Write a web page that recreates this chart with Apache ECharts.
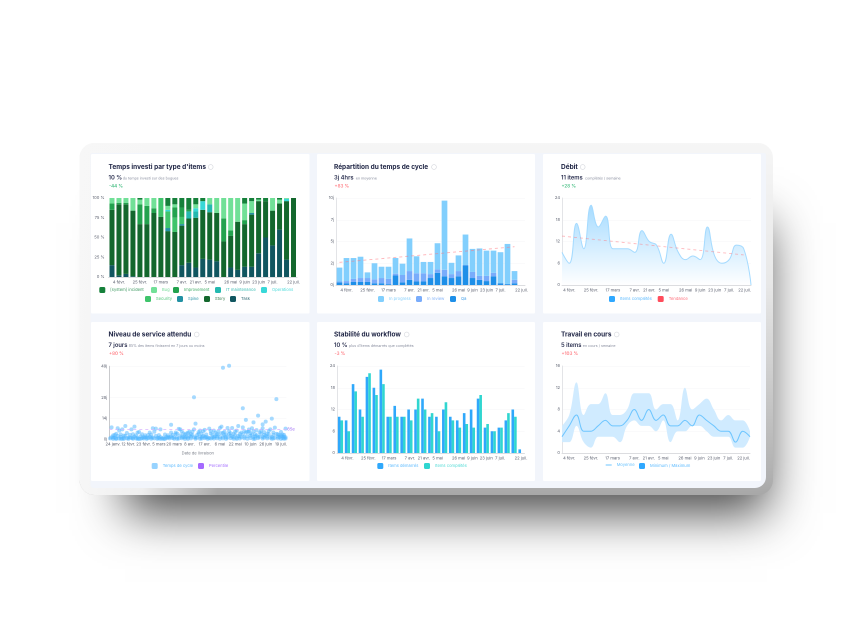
<!DOCTYPE html>
<html><head><meta charset="utf-8">
<style>html,body{margin:0;padding:0;background:#fff}#c{width:851px;height:638px;filter:blur(0.4px)}</style>
<script src="https://cdn.jsdelivr.net/npm/echarts@6/dist/echarts.min.js"></script>
</head><body><div id="c"></div>
<script>
const weeks=['28 janv.','4 févr.','11 févr.','18 févr.','25 févr.','3 mars','10 mars','17 mars','24 mars','31 mars','7 avr.','14 avr.','21 avr.','28 avr.','5 mai','12 mai','19 mai','26 mai','2 juin','9 juin','16 juin','23 juin','30 juin','7 juil.','14 juil.','21 juil.','22 juil.'];
const shownWeeks=[1,4,7,10,12,14,17,19,21,23,26];
// Chart 1
const task=[15,2,4,1,0,0,0,0,0,0,15,18,12,23,22,20,0,12,9,13,13,30,50,40,60,22,0];
const story=[70,90,88,83,67,67,81,76,58,57,50,56,63,62,60,61,45,40,61,54,66,66,46,44,33,74,100];
const spike=[0,0,0,0,0,0,0,0,4,0,2,0,0,0,0,0,0,0,0,0,2,0,0,0,0,0,0];
const maintenance=[0,0,0,0,0,0,0,0,0,0,0,9,8,0,10,0,0,0,0,0,0,0,0,0,0,0,0];
const security=[0,0,0,0,0,0,0,24,21,18,9,0,0,0,0,0,0,0,0,0,0,0,0,0,0,0,0];
const operations=[0,0,0,0,0,0,0,0,2,0,0,0,4,11,0,0,0,0,0,0,0,0,0,0,0,3,0];
const improvement=[8,2,2,0,25,23,6,0,0,13,12,2,0,0,0,0,29,7,0,5,0,0,0,0,0,0,0];
const bug=[7,6,6,16,6,10,13,0,5,4,0,0,5,0,8,19,26,41,30,21,15,2,0,16,5,1,0];
const incident=[0,0,0,0,2,0,0,0,10,8,12,15,8,4,0,0,0,0,0,7,4,2,4,0,2,0,0];
// Chart 2
const qa=[0.3,0.2,0.35,0.35,0.35,0.2,0.2,0.1,1.1,0.3,0.6,0.4,0.4,0.8,1.4,1.0,0.8,1.0,2.25,0.8,0.6,0.45,1.0,0.2,0.1,0.2,0];
const review=[0.1,0.25,0.35,0.45,0.45,0.45,0.6,0.6,0.2,0.85,1.0,0.95,0.95,0.45,0.4,0.75,0.45,0.6,0.05,0.7,0.45,0.6,0.4,0.02,0.02,0.4,0];
const progress=[1.6,2.65,2.4,2.45,0.65,1.85,1.3,1.4,1.8,1.3,3.75,1.95,1.3,1.4,3.0,7.95,1.3,1.8,3.5,2.65,3.15,2.9,2.55,3.55,4.6,1.0,0];
const cycleTrend=[2.6,null,null,null,null,null,null,null,null,null,null,null,null,null,null,null,null,null,null,null,null,null,null,null,null,4.4,null];
const cycleTicks={0:'0j',2.5:'2j',5:'5j',7.5:'7j',10:'10j'};
// Chart 3
const throughput=[9,6,17,10,22,16,19,10,10,10,9,15,12,11,6,14,9,7,8,7,16,8,6,7,11,10,0];
const throughputTrend=[13.5,null,null,null,null,null,null,null,null,null,null,null,null,null,null,null,null,null,null,null,null,null,null,null,null,8.3,null];
// Chart 4
const deliveryTicks=['24 janv.','12 févr.','23 févr.','5 mars','20 mars','8 avr.','17 avr.','6 mai','22 mai','10 juin','26 juin','19 juil.'];
const slowPoints=[[1,8],[3,2.9],[5,7.4],[6,5.8],[8,6.7],[10,8.9],[13,3],[14,6.7],[16,8.5],[18,4.5],[21,3.4],[25,2.9],[26,4.5],[28,7.4],[30,7.2],[33,6.7],[40,9.8],[40,4.5],[41,3],[45,7],[46,6.7],[48,4],[50,1.8],[52,5.1],[55,28.2],[56,10.5],[55,6.7],[57,2.9],[59,5.8],[62,6.3],[65,7.2],[68,5.8],[72,7.6],[73,8.5],[74,48],[78,49.4],[77,7.6],[80,7.6],[83,5.8],[84,8.9],[87,20.8],[89,13],[86,4.5],[87,8],[93,7.4],[94,11.4],[97,15.9],[100,7.4],[100,10],[102,11.9],[106,13.9],[105,6.7],[108,7.8],[109,27],[115,7.2],[111,2.9]];
const midPoints=[[2,2.6],[4,3.6],[7,3.2],[9,2.5],[11,4.2],[15,3.4],[17,2.6],[19,4.9],[23,2.7],[27,3.1],[29,5.1],[32,2.8],[36,3.2],[38,2.7],[43,4.6],[44,3.8],[47,5.3],[49,3.1],[51,4.4],[53,3.5],[54,5.2],[58,4.8],[60,3.6],[61,5.4],[63,3.2],[66,5.6],[67,3.1],[69,4.5],[70,3.5],[71,5.5],[74,4.3],[75,5.1],[76,3.2],[78,5.4],[79,4.1],[81,3.7],[82,5.3],[85,3.6],[88,5.5],[90,5],[91,6.6],[92,4.1],[94,5.4],[95,3.5],[96,6.2],[98,4.6],[99,5.7],[101,4.8],[103,3.7],[104,5.6],[107,4.6],[110,3.4],[112,4.9],[113,3.2],[114,3]];
const fastPoints=[[0,0.6],[1,1.4],[2,0.3],[3,1.1],[4,0.8],[5,2.2],[6,0.5],[7,1.6],[8,0.4],[9,1],[10,2.4],[11,0.7],[12,0.3],[13,1.3],[14,0.9],[15,0.4],[16,1.8],[17,0.6],[18,1.1],[19,0.3],[20,2],[21,0.9],[22,0.5],[23,1.4],[24,0.3],[25,0.8],[26,1.6],[27,0.4],[28,1.1],[29,0.6],[30,2.3],[31,0.3],[32,0.9],[33,1.5],[34,0.5],[35,1.1],[36,0.3],[37,0.8],[38,1.3],[39,0.6],[40,1.9],[41,0.9],[42,0.4],[43,3.4],[44,1.2],[45,0.5],[46,2.6],[47,0.7],[48,1.5],[49,0.3],[50,3.8],[51,1.1],[52,2.4],[53,0.6],[54,3],[55,1.4],[56,0.4],[57,1],[58,3.6],[59,1.8],[60,0.5],[61,2.2],[62,0.8],[63,1.4],[64,0.3],[65,0.9],[66,3.9],[67,1.2],[68,0.5],[69,2],[70,0.7],[71,3.2],[72,1.5],[73,4.1],[74,0.6],[75,2.7],[76,0.3],[77,1.1],[78,3.5],[79,0.8],[80,1.7],[81,0.4],[82,3],[83,1],[84,2.2],[85,0.5],[86,1.4],[87,3.4],[88,0.7],[89,4.6],[90,2.1],[91,5.2],[92,0.9],[93,3.1],[94,1.3],[95,0.4],[96,2.6],[97,0.8],[98,1.6],[99,3.8],[100,0.5],[101,1.2],[102,2.4],[103,0.6],[104,3.4],[105,1.1],[106,0.4],[107,2.9],[108,1],[109,3.6],[110,0.6],[111,1.5],[112,2.4],[113,0.8],[114,1.7],[115,0.5],[4,0.2],[9,0.3],[15,1],[20,0.4],[24,1.2],[31,1],[37,1.6],[44,0.3],[49,1.4],[53,1.7],[60,1.4],[64,1.3],[70,1.8],[74,1.6],[79,2.4],[85,1.9],[92,2.3],[95,1.9],[101,3],[107,0.5],[113,1.9],[2,1.2],[7,0.4],[12,1.1],[18,0.3],[22,1.4],[27,1.2],[33,0.3],[35,0.3],[39,1.5],[42,1.3],[47,1.6],[51,0.3],[56,1.2],[59,0.4],[62,1.7],[66,0.5],[68,1.6],[72,0.4],[76,1.4],[81,1.3],[83,0.3],[88,1.7],[90,0.4],[94,0.3],[97,1.8],[100,1.6],[103,1.7],[106,1.6],[110,1.7],[112,0.3],[114,0.4],[115,1.4]];
const percentile85=6.7;
const serviceTicks=[0,14,28,49];
// Chart 5
const started=[10,9,19,12,21,18,23,10,13,10,12,12,15,10,10,12,10,9,11,12,15,7,6,7,9,12,1];
const completed=[9,6,17,10,22,16,19,10,10,10,9,15,12,11,6,14,9,7,8,7,16,8,6,7,11,10,0];
// Chart 6
const wipMean=[3,5,7,4,4,5,6,5,5,6,8,6,8,6,7,5,5,6,5,7,6,5,4,4,2,4,3];
const wipMax=[5,7,13,7,9,9,11,7,7,8,11,11,11,8,9,9,6,12,8,9,10,8,6,7,6,6,4];
const wipMin=[2,2,5,2,1,3,3,3,2,5,6,5,5,4,6,2,4,4,5,5,4,3,3,3,1,1,3];
// Text
const panels=[
 {t:"Temps investi par type d'items",v:'10 %',s:'du temps investi sur des bogues',d:'-44 %',dc:'#35b978',x:108.5,sx:122.7,ix:210.7,row:0},
 {t:'Répartition du temps de cycle',v:'3j 4hrs',s:'en moyenne',d:'+83 %',dc:'#ff6b73',x:334,sx:355.7,ix:434,row:0},
 {t:'Débit',v:'11 items',s:'complétés / semaine',d:'+28 %',dc:'#35b978',x:561,sx:585,ix:582.7,row:0},
 {t:'Niveau de service attendu',v:'7 jours',s:'85% des items finissent en 7 jours ou moins',d:'+80 %',dc:'#ff6b73',x:108.5,sx:128.7,ix:196.7,row:1},
 {t:'Stabilité du workflow',v:'10 %',s:"plus d'items démarrés que complétés",d:'-3 %',dc:'#ff6b73',x:334,sx:349,ix:406.7,row:1},
 {t:'Travail en cours',v:'5 items',s:'en cours / semaine',d:'+103 %',dc:'#ff6b73',x:561,sx:582.7,ix:616.7,row:1}];
const F='Inter';
const cards=[[91,154,218.5,159.5],[317,154,218,159.5],[543,154,218,159.5],[91,322,218.5,159],[317,322,218,159],[543,322,218,159]];
const g=[];
g.push({type:'rect',z:-20,shape:{x:100,y:180,width:642,height:290},style:{fill:'#999',shadowBlur:46,shadowOffsetX:25,shadowOffsetY:43,shadowColor:'rgba(0,0,0,0.72)'}});
g.push({type:'rect',z:-19,shape:{x:79.5,y:143,width:693.5,height:352,r:15},style:{fill:{type:'linear',x:0,y:0,x2:0,y2:1,colorStops:[{offset:0,color:'#f6f6f6'},{offset:.4,color:'#e8e8e8'},{offset:.95,color:'#b0b0b0'},{offset:1,color:'#a8a8a8'}]}}});
g.push({type:'rect',z:-18,shape:{x:79.5,y:143,width:693.5,height:352,r:15},style:{fill:{type:'linear',x:0,y:0,x2:1,y2:0,colorStops:[{offset:0,color:'rgba(247,247,247,1)'},{offset:.09,color:'rgba(247,247,247,.9)'},{offset:.2,color:'rgba(247,247,247,0)'}]}}});
g.push({type:'rect',z:-17,shape:{x:90.5,y:153,width:675.5,height:335,r:[2,2,11,3]},style:{fill:'#f2f5fb'}});
cards.forEach(c=>g.push({type:'rect',z:-16,shape:{x:c[0],y:c[1],width:c[2],height:c[3],r:1},style:{fill:'#fff'}}));
function tx(text,x,y,size,weight,fill){g.push({type:'text',z:5,x:x,y:y,style:{text:text,font:weight+' '+size+'px '+F,fill:fill,verticalAlign:'middle',align:'left'}});}
panels.forEach(p=>{const o=p.row?168:0;
 tx(p.t,p.x,167+o-0.5*p.row,6.5,700,'#1e2444');
 tx(p.v,p.x,177.7+o-0.5*p.row,5.8,600,'#2b3050');
 tx(p.s,p.sx,178.3+o-0.5*p.row,3.65,400,'#8a8fa0');
 tx(p.d,p.x+0.5,186+o-0.5*p.row,4.6,500,p.dc);
 g.push({type:'circle',z:5,shape:{cx:p.ix,cy:167+o-0.5*p.row,r:2.4},style:{fill:'none',stroke:'#d5d7dd',lineWidth:0.6}});
});
const grids=[[108.5,198,188.5,79],[336,198,189,87],[562,198,189,87],[109.3,366.3,177,73],[337,366,187.5,87],[562,366,188,87]];
const axisFont={fontFamily:F,fontSize:4.1,color:'#5f6472'};
const xAxes=grids.map((_,i)=>i===3?{
  gridIndex:3,type:'category',boundaryGap:true,
  data:Array.from({length:116},(_,k)=>(k-2)%10===0&&k>=2?deliveryTicks[(k-2)/10]:''),
  axisTick:{show:false},axisLine:{show:false},
  axisLabel:Object.assign({},axisFont,{interval:(k)=>(k-2)%10===0,margin:3,hideOverlap:false,showMinLabel:true,showMaxLabel:true}),
  name:'Date de livraison',nameLocation:'middle',nameGap:12,nameTextStyle:{fontFamily:F,fontSize:4.1,color:'#80858f'}
}:{
  gridIndex:i,type:'category',boundaryGap:(i===0||i===1||i===4),data:weeks,
  axisTick:{show:false},axisLine:{show:true,lineStyle:{color:'#dcdde0',width:1}},
  axisLabel:Object.assign({},axisFont,{interval:(k)=>shownWeeks.includes(k),margin:3.5,hideOverlap:false,showMinLabel:true,showMaxLabel:true,alignMaxLabel:(i===2||i===5)?'right':'center'})
});
const yBase=(i,extra)=>Object.assign({gridIndex:i,type:'value',min:0,splitLine:{show:true,lineStyle:{color:'#f5f6f8',width:.6}},axisTick:{show:false},axisLine:{show:true,lineStyle:{color:i===3?'#c9cacd':'#e3e4e7',width:1}}},extra);
const yAxes=[
 yBase(0,{max:100,interval:25,axisLine:{show:false},splitLine:{show:false},axisLabel:Object.assign({},axisFont,{margin:4,formatter:'{value} %'})}),
 yBase(1,{max:10,interval:2.5,axisLabel:Object.assign({},axisFont,{margin:2,formatter:v=>cycleTicks[v]})}),
 yBase(2,{max:24,interval:6,axisLabel:Object.assign({},axisFont,{margin:2})}),
 yBase(3,{max:49,axisLabel:Object.assign({},axisFont,{margin:2,customValues:serviceTicks,formatter:'{value}j'}),axisTick:{show:false,customValues:serviceTicks}}),
 yBase(4,{max:24,interval:6,axisLabel:Object.assign({},axisFont,{margin:2})}),
 yBase(5,{max:16,interval:4,axisLabel:Object.assign({},axisFont,{margin:2})})];
const stackDefs=[['Task',task,'#115660'],['Story',story,'#13672d'],['Spike',spike,'#2291a3'],['IT maintenance',maintenance,'#24b9b0'],['Security',security,'#3fc46b'],['Operations',operations,'#38d8d8'],['Improvement',improvement,'#23a24e'],['Bug',bug,'#71e097'],['[system] incident',incident,'#15803a']];
const series=[];
stackDefs.forEach(d=>series.push({name:d[0],type:'bar',stack:'a',xAxisIndex:0,yAxisIndex:0,barWidth:5,data:d[1],itemStyle:{color:d[2]}}));
[['Qa',qa,'#1e8fe8'],['In review',review,'#79acfb'],['In progress',progress,'#82cffd']].forEach(d=>series.push({name:d[0],type:'bar',stack:'b',xAxisIndex:1,yAxisIndex:1,barWidth:5.7,data:d[1],itemStyle:{color:d[2]}}));
series.push({name:'TendanceCycle',type:'line',xAxisIndex:1,yAxisIndex:1,data:cycleTrend,connectNulls:true,symbol:'none',z:5,lineStyle:{color:'rgba(255,120,130,.55)',width:.9,type:[3,3]}});
series.push({name:'Items complétés',type:'line',smooth:.45,xAxisIndex:2,yAxisIndex:2,data:throughput,symbol:'none',itemStyle:{color:'#2fa8ff'},lineStyle:{color:'#a5dbff',width:1},areaStyle:{color:{type:'linear',x:0,y:0,x2:0,y2:1,colorStops:[{offset:0,color:'#a7dcff'},{offset:1,color:'#ffffff'}]},opacity:1}});
series.push({name:'Tendance',type:'line',xAxisIndex:2,yAxisIndex:2,data:throughputTrend,connectNulls:true,symbol:'none',z:5,itemStyle:{color:'#ff4c5b'},lineStyle:{color:'rgba(255,120,130,.5)',width:.9,type:[3,3]}});
series.push({name:'Temps de cycle',type:'scatter',clip:false,xAxisIndex:3,yAxisIndex:3,symbolSize:4,data:fastPoints.concat(midPoints,slowPoints),itemStyle:{color:'#4db6ff',opacity:.5},
  markLine:{silent:true,symbol:'none',data:[{yAxis:percentile85}],lineStyle:{color:'#d9b6ff',width:.8,type:[3,3]},label:{position:'end',formatter:'85e',fontFamily:F,fontSize:4.1,color:'#a070f5',distance:1}}});
series.push({name:'Percentile',type:'scatter',xAxisIndex:3,yAxisIndex:3,data:[],itemStyle:{color:'#8f45ff'}});
series.push({name:'Items démarrés',type:'bar',xAxisIndex:4,yAxisIndex:4,barWidth:2.6,barGap:'0%',data:started,itemStyle:{color:'#2fa8fb'}});
series.push({name:'Items complétés ',type:'bar',xAxisIndex:4,yAxisIndex:4,barWidth:2.6,data:completed,itemStyle:{color:'#30d6d0'}});
series.push({name:'base',type:'line',smooth:.4,stack:'w',xAxisIndex:5,yAxisIndex:5,data:wipMin,symbol:'none',lineStyle:{width:0},areaStyle:{color:'transparent',opacity:0}});
series.push({name:'Minimum / Maximum',type:'line',smooth:.4,stack:'w',xAxisIndex:5,yAxisIndex:5,data:wipMax.map((v,k)=>v-wipMin[k]),symbol:'none',lineStyle:{width:0},itemStyle:{color:'#2fa8ff'},areaStyle:{color:'#d0ebff',opacity:1}});
series.push({name:'Moyenne',type:'line',smooth:.4,xAxisIndex:5,yAxisIndex:5,data:wipMean,symbol:'none',z:5,itemStyle:{color:'#6ec6ff'},lineStyle:{color:'#6ec6ff',width:1}});
function L(name,x,y,color,txt,line){return {show:true,left:x,top:y-3,orient:'horizontal',padding:0,itemWidth:6,itemHeight:line?1:6,itemGap:0,selectedMode:false,
  data:[{name:name,icon:line?'rect':'roundRect',itemStyle:{color:color,borderWidth:0},lineStyle:{color:color,width:0},textStyle:{color:txt,fontFamily:F,fontSize:4.1}}],textStyle:{fontFamily:F,fontSize:4.1,color:txt}};}
const legends=[
 L('[system] incident',99.3,290,'#15803a','#3f9a62'),L('Bug',151,290,'#71e097','#74dc98'),L('Improvement',173,290,'#23a24e','#42ad68'),L('IT maintenance',215,290,'#24b9b0','#3ebfb7'),L('Operations',261,290,'#38d8d8','#4edcdc'),
 L('Security',145,299,'#3fc46b','#50c67a'),L('Spike',177,299,'#2291a3','#3e9daf'),L('Story',204,299,'#13672d','#3c7d50'),L('Task',230,299,'#115660','#38707a'),
 L('In progress',378,299,'#82cffd','#86d0fd'),L('In review',416,299,'#79acfb','#85b4fa'),L('Qa',450,299,'#1e8fe8','#3f9eea'),
 L('Items complétés',609,299,'#2fa8ff','#5fbcff'),L('Tendance',657.7,299,'#ff4c5b','#ff7480'),
 L('Temps de cycle',151.7,466,'#2fa8ff','#5fbcff'),L('Percentile',198,466,'#8f45ff','#a873ff'),
 L('Items démarrés',377.3,466,'#2fa8fb','#5fbcff'),L('Items complétés ',424,466,'#30d6d0','#55dcd7'),
 L('Moyenne',605.7,466,'#6ec6ff','#6ec6ff',true),L('Minimum / Maximum',639,466,'#2fa8ff','#5fbcff')];
const chart=echarts.init(document.getElementById('c'),null,{renderer:'canvas',devicePixelRatio:2});
chart.setOption({animation:false,backgroundColor:'#fff',
 grid:grids.map(r=>({left:r[0],top:r[1],width:r[2],height:r[3],containLabel:false})),
 xAxis:xAxes,yAxis:yAxes,series:series,legend:legends,graphic:{elements:g},tooltip:{show:false}});
</script></body></html>
